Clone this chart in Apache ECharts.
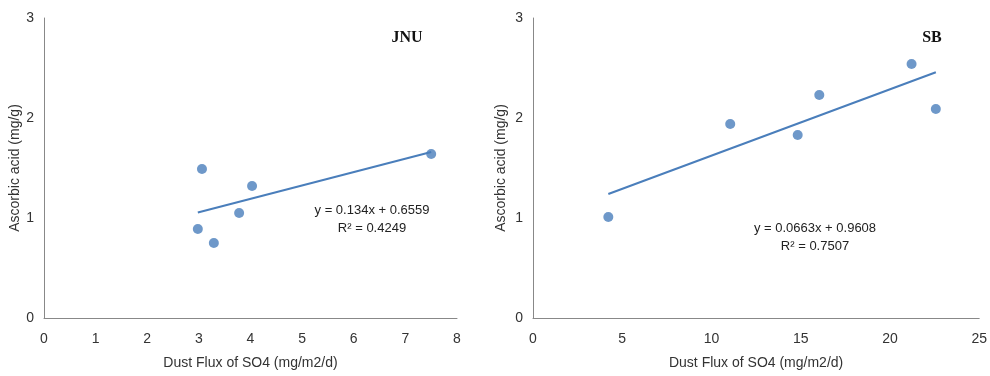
<!DOCTYPE html>
<html>
<head>
<meta charset="utf-8">
<script src="https://cdn.jsdelivr.net/npm/echarts@6/dist/echarts.min.js"></script>
<style>
  html, body { margin: 0; padding: 0; background: #fff; }
  #chart { width: 990px; height: 376px; }
</style>
</head>
<body>
<div id="chart"></div>
<script>
// JNU site
const jnuFlux = [2.98, 3.06, 3.29, 3.78, 4.03, 7.50];
const jnuAscorbic = [0.89, 1.49, 0.75, 1.05, 1.32, 1.64];
const jnuSlope = 0.134, jnuIntercept = 0.6559, jnuR2 = '0.4249';

// SB site
const sbFlux = [4.22, 11.05, 14.83, 16.04, 21.21, 22.57];
const sbAscorbic = [1.01, 1.94, 1.83, 2.23, 2.54, 2.09];
const sbSlope = 0.0663, sbIntercept = 0.9608, sbR2 = '0.7507';

const jnuXTicks = [0, 1, 2, 3, 4, 5, 6, 7, 8];
const sbXTicks = [0, 5, 10, 15, 20, 25];
const yTicks = [0, 1, 2, 3];

const blue = '#4a7ebb';
const sans = '"Liberation Sans", Arial, sans-serif';

const pairs = (xs, ys) => xs.map((x, i) => [x, ys[i]]);
const trend = (xs, a, b) => {
  const lo = Math.min(...xs), hi = Math.max(...xs);
  return [[lo, a * lo + b], [hi, a * hi + b]];
};

const xAxisBase = (ticks, idx) => ({
  type: 'value',
  gridIndex: idx,
  min: ticks[0],
  max: ticks[ticks.length - 1],
  interval: ticks[1] - ticks[0],
  name: 'Dust Flux of SO4 (mg/m2/d)',
  nameLocation: 'middle',
  nameGap: 38,
  nameTextStyle: { color: '#333', fontSize: 14, fontFamily: sans },
  axisLine: { lineStyle: { color: '#888', width: 1 } },
  axisTick: { show: false },
  splitLine: { show: false },
  axisLabel: { color: '#333', fontSize: 14, fontFamily: sans, margin: 14 }
});

const yAxisBase = (idx, gap) => ({
  type: 'value',
  gridIndex: idx,
  min: yTicks[0],
  max: yTicks[yTicks.length - 1],
  interval: 1,
  name: 'Ascorbic acid (mg/g)',
  nameLocation: 'middle',
  nameGap: gap,
  nameTextStyle: { color: '#333', fontSize: 14, fontFamily: sans },
  axisLine: { show: true, lineStyle: { color: '#888', width: 1 } },
  axisTick: { show: false },
  splitLine: { show: false },
  axisLabel: { color: '#333', fontSize: 14, fontFamily: sans, margin: 10 }
});

const chart = echarts.init(document.getElementById('chart'));
chart.setOption({
  backgroundColor: '#fff',
  animation: false,
  title: [
    { text: 'JNU', left: 402, top: 25, textAlign: 'center',
      textStyle: { fontFamily: '"Liberation Serif", "Times New Roman", serif', fontWeight: 'bold', fontSize: 16, color: '#111' } },
    { text: 'SB', left: 927, top: 25, textAlign: 'center',
      textStyle: { fontFamily: '"Liberation Serif", "Times New Roman", serif', fontWeight: 'bold', fontSize: 16, color: '#111' } }
  ],
  grid: [
    { left: 44, top: 18, width: 413, height: 300 },
    { left: 533, top: 18, width: 447, height: 300 }
  ],
  xAxis: [xAxisBase(jnuXTicks, 0), xAxisBase(sbXTicks, 1)],
  yAxis: [yAxisBase(0, 22), yAxisBase(1, 25)],
  graphic: [
    { type: 'text', x: 372, y: 219, style: {
        text: 'y = ' + jnuSlope + 'x + ' + jnuIntercept + '\nR² = ' + jnuR2,
        font: '13px ' + sans, fill: '#222', align: 'center', verticalAlign: 'middle', lineHeight: 18 } },
    { type: 'text', x: 815, y: 237, style: {
        text: 'y = ' + sbSlope + 'x + ' + sbIntercept + '\nR² = ' + sbR2,
        font: '13px ' + sans, fill: '#222', align: 'center', verticalAlign: 'middle', lineHeight: 18 } }
  ],
  series: [
    { type: 'line', xAxisIndex: 0, yAxisIndex: 0, data: trend(jnuFlux, jnuSlope, jnuIntercept),
      showSymbol: false, lineStyle: { color: blue, width: 2 }, z: 1 },
    { type: 'scatter', xAxisIndex: 0, yAxisIndex: 0, data: pairs(jnuFlux, jnuAscorbic),
      symbolSize: 10, itemStyle: { color: blue }, z: 2 },
    { type: 'line', xAxisIndex: 1, yAxisIndex: 1, data: trend(sbFlux, sbSlope, sbIntercept),
      showSymbol: false, lineStyle: { color: blue, width: 2 }, z: 1 },
    { type: 'scatter', xAxisIndex: 1, yAxisIndex: 1, data: pairs(sbFlux, sbAscorbic),
      symbolSize: 10, itemStyle: { color: blue }, z: 2 }
  ]
});
</script>
</body>
</html>
